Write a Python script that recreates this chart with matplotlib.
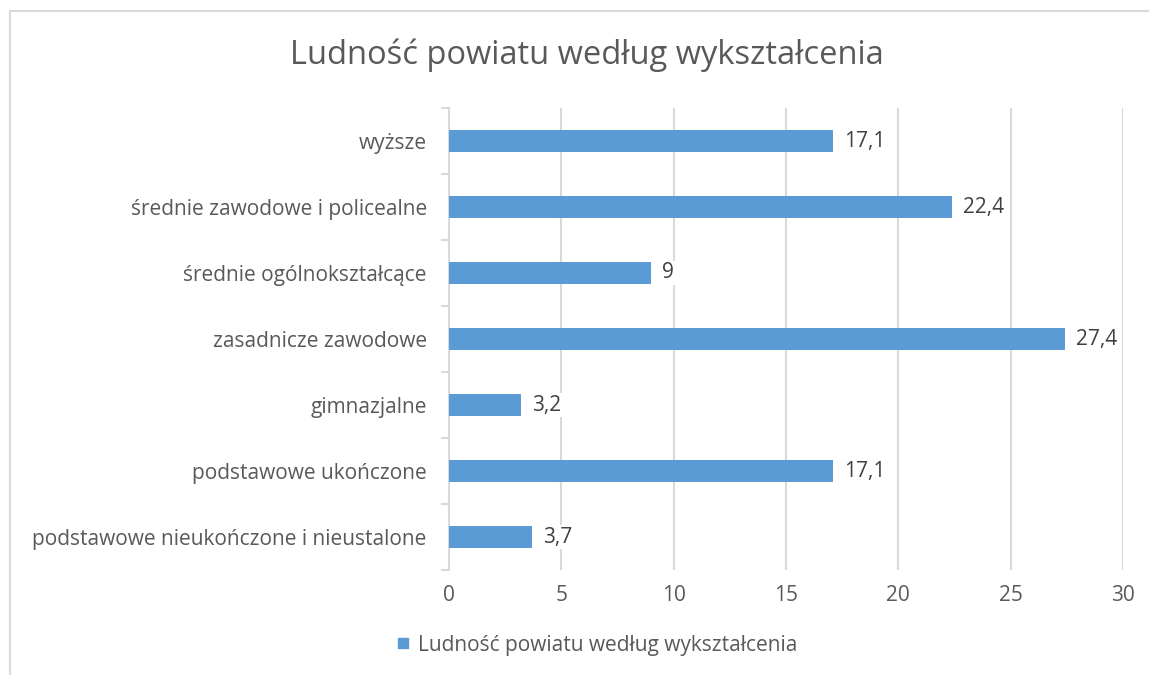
import matplotlib.pyplot as plt
from matplotlib.lines import Line2D

plt.rcParams['font.family'] = ['Open Sans', 'DejaVu Sans']

title = "Ludność powiatu według wykształcenia"
categories = ["podstawowe nieukończone i nieustalone", "podstawowe ukończone",
              "gimnazjalne", "zasadnicze zawodowe", "średnie ogólnokształcące",
              "średnie zawodowe i policealne", "wyższe"]
values = [3.7, 17.1, 3.2, 27.4, 9, 22.4, 17.1]
labels = ["3,7", "17,1", "3,2", "27,4", "9", "22,4", "17,1"]

bar_col = "#5B9BD5"
grid_col = "#D9D9D9"
text_col = "#595959"

fig = plt.figure(figsize=(11.49, 6.75), dpi=100)
ax = fig.add_axes([449 / 1149, 1 - 570 / 675, 674 / 1149, 462 / 675])

ypos = list(range(len(categories)))
ax.barh(ypos, values, height=0.33, color=bar_col, zorder=3)

for y, v, lab in zip(ypos, values, labels):
    ax.text(v + 0.5, y, lab, va="center", ha="left", fontsize=15, color="#404040",
            bbox=dict(facecolor="white", edgecolor="none", pad=1), zorder=4)

ax.set_xlim(0, 30)
ax.set_ylim(-0.5, len(categories) - 0.5)
ax.set_xticks(range(0, 31, 5))
ax.xaxis.grid(True, color=grid_col, lw=1.5, zorder=0)
ax.tick_params(axis="x", length=0, labelsize=15, labelcolor=text_col, pad=11)

ax.set_yticks([i - 0.5 for i in range(len(categories) + 1)])
ax.set_yticklabels([])
ax.set_yticks(ypos, minor=True)
ax.set_yticklabels(categories, minor=True)
ax.tick_params(axis="y", which="major", length=6, color=grid_col, width=1.5)
ax.tick_params(axis="y", which="minor", length=0, labelsize=15, labelcolor=text_col, pad=16)

for s in ["top", "right", "bottom"]:
    ax.spines[s].set_visible(False)
ax.spines["left"].set_color(grid_col)
ax.spines["left"].set_linewidth(1.5)

fig.text(587 / 1149, 1 - 55 / 675, title, ha="center", va="center",
         fontsize=23.5, color=text_col)

handle = Line2D([], [], marker="s", linestyle="none", color=bar_col, markersize=7)
fig.legend([handle], [title], loc="center", bbox_to_anchor=(595 / 1149, 1 - 645 / 675),
           frameon=False, fontsize=15, labelcolor=text_col, handletextpad=0.2,
           handlelength=1)

# chart frame (cropped on right and bottom)
fig.add_artist(Line2D([10 / 1149, 10 / 1149], [0, 1 - 11 / 675], color="#D9D9D9", lw=1.5))
fig.add_artist(Line2D([10 / 1149, 1], [1 - 11 / 675, 1 - 11 / 675], color="#D9D9D9", lw=1.5))

fig.savefig("out.png", dpi=100)
